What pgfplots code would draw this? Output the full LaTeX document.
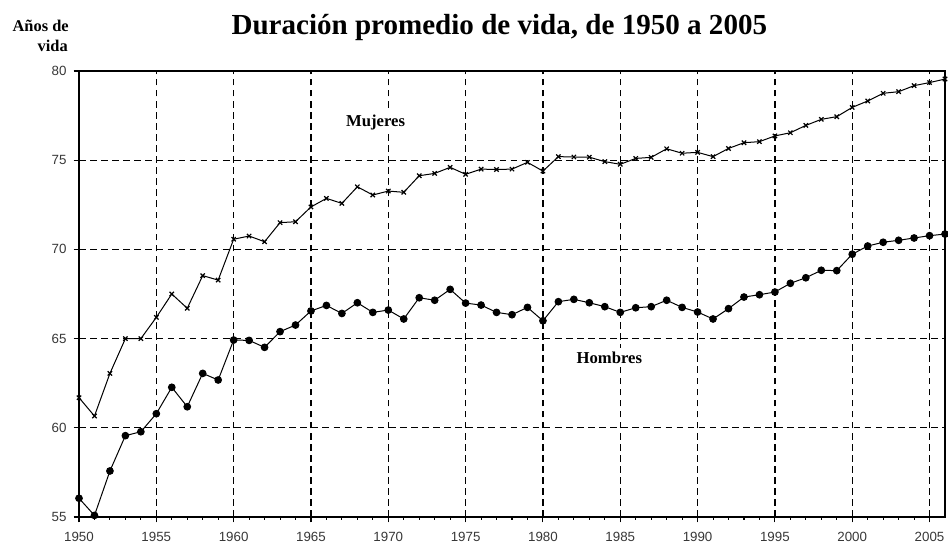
\documentclass[border=0pt]{standalone}
\usepackage{pgfplots}
\pgfplotsset{compat=1.18}
\usepackage{fontspec}
\setmainfont{Liberation Serif}
\setsansfont{Liberation Sans}
\definecolor{ticklab}{RGB}{55,55,55}
\begin{document}
\begin{tikzpicture}
\begin{axis}[
  scale only axis,
  width=649.5pt, height=334.5pt,
  xmin=1950, xmax=2006, ymin=55, ymax=80,
  xtick={1950,1955,...,2005},
  ytick={55,60,...,80},
  minor x tick num=4,
  tick align=outside,
  tick pos=left,
  major tick length=4pt,
  minor tick length=2pt,
  grid=major,
  major grid style={black, line width=0.9pt, dash pattern=on 5pt off 3.3pt},
  axis line style={black, line width=1pt},
  every tick/.style={black, line width=0.8pt},
  ticklabel style={font=\sffamily\fontsize{10}{11}\selectfont, text=ticklab},
  /pgf/number format/assume math mode=true,
  /pgf/number format/1000 sep={},
  xticklabel style={yshift=-4pt},
  yticklabel style={xshift=-1.8pt},
  clip=false,
]
\addplot[black, line width=0.75pt, mark=x, mark size=2.3pt, mark options={line width=0.9pt}] coordinates {
(1950,61.69) (1951,60.66) (1952,63.05) (1953,65.0) (1954,65.0) (1955,66.19)
(1956,67.5) (1957,66.7) (1958,68.53) (1959,68.28) (1960,70.57) (1961,70.75)
(1962,70.43) (1963,71.5) (1964,71.55) (1965,72.38) (1966,72.86) (1967,72.58)
(1968,73.51) (1969,73.05) (1970,73.27) (1971,73.2) (1972,74.13) (1973,74.26)
(1974,74.6) (1975,74.21) (1976,74.5) (1977,74.48) (1978,74.5) (1979,74.88)
(1980,74.39) (1981,75.2) (1982,75.18) (1983,75.17) (1984,74.92) (1985,74.77)
(1986,75.1) (1987,75.16) (1988,75.64) (1989,75.39) (1990,75.44) (1991,75.2)
(1992,75.66) (1993,75.98) (1994,76.04) (1995,76.36) (1996,76.54) (1997,76.95)
(1998,77.29) (1999,77.44) (2000,77.96) (2001,78.32) (2002,78.75) (2003,78.84)
(2004,79.18) (2005,79.35) (2006,79.55)
};
\addplot[black, line width=0.75pt, mark=*, mark size=2.5pt] coordinates {
(1950,56.05) (1951,55.09) (1952,57.58) (1953,59.56) (1954,59.78) (1955,60.79)
(1956,62.27) (1957,61.18) (1958,63.05) (1959,62.68) (1960,64.92) (1961,64.9)
(1962,64.51) (1963,65.39) (1964,65.76) (1965,66.55) (1966,66.86) (1967,66.41)
(1968,67.01) (1969,66.47) (1970,66.6) (1971,66.1) (1972,67.29) (1973,67.15)
(1974,67.76) (1975,66.99) (1976,66.88) (1977,66.47) (1978,66.34) (1979,66.75)
(1980,66.0) (1981,67.07) (1982,67.2) (1983,67.01) (1984,66.79) (1985,66.47)
(1986,66.73) (1987,66.79) (1988,67.15) (1989,66.75) (1990,66.49) (1991,66.1)
(1992,66.68) (1993,67.33) (1994,67.46) (1995,67.61) (1996,68.1) (1997,68.41)
(1998,68.83) (1999,68.81) (2000,69.73) (2001,70.19) (2002,70.4) (2003,70.51)
(2004,70.64) (2005,70.77) (2006,70.86)
};
\node[anchor=base west, fill=white, inner sep=3pt, font=\bfseries\fontsize{12.5}{14}\selectfont] at (axis cs:1967.0,76.88) {Mujeres};
\node[anchor=base west, fill=white, inner sep=3pt, font=\bfseries\fontsize{12.5}{14}\selectfont] at (axis cs:1981.9,63.62) {Hombres};
\node[anchor=base, font=\bfseries\fontsize{21.8}{24}\selectfont] at (axis cs:1977.18,82.07) {Duración promedio de vida, de 1950 a 2005};
\node[anchor=base east, inner sep=0pt, font=\bfseries\fontsize{12.3}{14}\selectfont] at (axis cs:1949.35,82.19) {Años de};
\node[anchor=base east, inner sep=0pt, font=\bfseries\fontsize{12.3}{14}\selectfont] at (axis cs:1949.29,81.07) {vida};
\coordinate (sw) at (rel axis cs:0,0);
\coordinate (ne) at (rel axis cs:1,1);
\end{axis}
\pgfresetboundingbox
\path (sw) ++(-59.25pt,-20.25pt) coordinate (bba);
\path (ne) ++(2.25pt,53.25pt) coordinate (bbb);
\path (bba) rectangle (bbb);
\end{tikzpicture}
\end{document}
